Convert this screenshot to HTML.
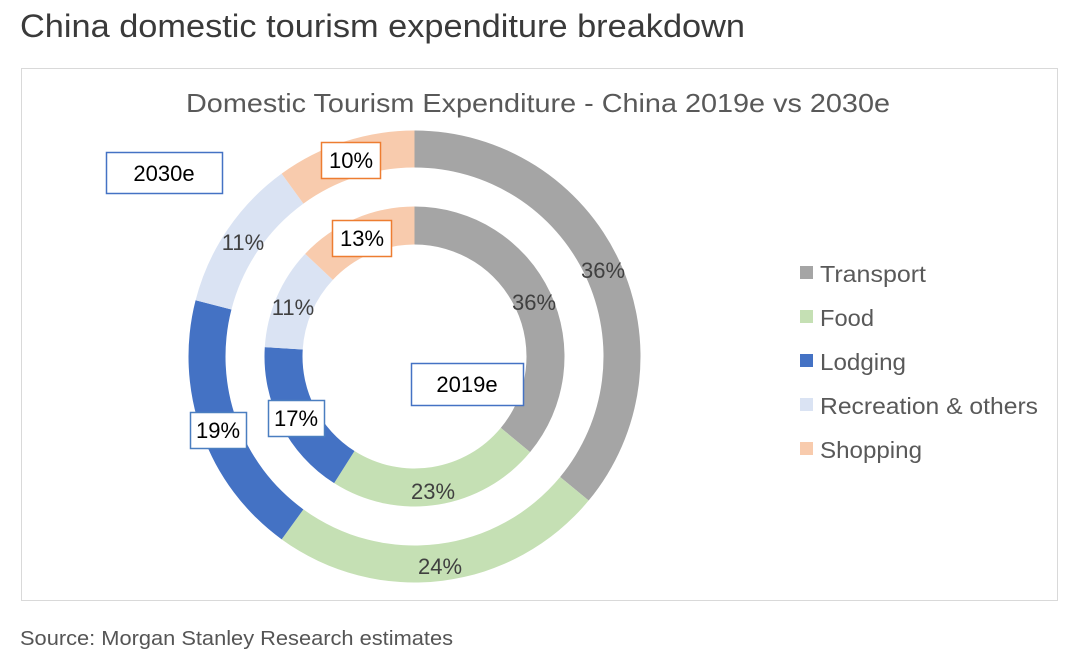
<!DOCTYPE html>
<html><head><meta charset="utf-8"><style>
body{margin:0;background:#fff;width:1080px;height:662px;overflow:hidden;font-family:"Liberation Sans",sans-serif}
</style></head><body>
<svg width="1080" height="662" xmlns="http://www.w3.org/2000/svg" font-family="Liberation Sans, sans-serif">
<text x="20" y="37" font-size="32" fill="#3a3a3a" textLength="725" lengthAdjust="spacingAndGlyphs">China domestic tourism expenditure breakdown</text>
<rect x="21.5" y="68.5" width="1036" height="532" fill="#fff" stroke="#d9d9d9"/>
<text x="186" y="112" font-size="26" fill="#595959" textLength="704" lengthAdjust="spacingAndGlyphs">Domestic Tourism Expenditure - China 2019e vs 2030e</text>
<g id="rings"></g>
<g font-size="22" fill="#404040" text-anchor="middle">
<text x="603" y="278">36%</text>
<text x="440" y="574">24%</text>
<text x="243" y="250">11%</text>
<text x="534" y="310">36%</text>
<text x="433" y="499">23%</text>
<text x="293" y="315">11%</text>
</g>
<g font-size="22" fill="#000" text-anchor="middle">
<rect x="190.5" y="412.5" width="56" height="36" fill="#fff" stroke="#4a7ec0" stroke-width="1.5"/><text x="218" y="438">19%</text>
<rect x="321.5" y="142.5" width="59" height="36" fill="#fff" stroke="#ed7d31" stroke-width="1.5"/><text x="351" y="168">10%</text>
<rect x="268.5" y="400.5" width="56" height="36" fill="#fff" stroke="#4a7ec0" stroke-width="1.5"/><text x="296" y="426">17%</text>
<rect x="332.5" y="220.5" width="59" height="36" fill="#fff" stroke="#ed7d31" stroke-width="1.5"/><text x="362" y="246">13%</text>
<rect x="106.5" y="152.5" width="116" height="41" fill="#fff" stroke="#4472c4" stroke-width="1.5"/><text x="164" y="181">2030e</text>
<rect x="411.5" y="363.5" width="112" height="42" fill="#fff" stroke="#4472c4" stroke-width="1.5"/><text x="467" y="392">2019e</text>
</g>
<g font-size="23" fill="#595959">
<rect x="800" y="266" width="13" height="13" fill="#a5a5a5"/><text x="820" y="282" textLength="106" lengthAdjust="spacingAndGlyphs">Transport</text>
<rect x="800" y="310" width="13" height="13" fill="#c5e0b4"/><text x="820" y="326" textLength="54" lengthAdjust="spacingAndGlyphs">Food</text>
<rect x="800" y="354" width="13" height="13" fill="#4472c4"/><text x="820" y="370" textLength="86" lengthAdjust="spacingAndGlyphs">Lodging</text>
<rect x="800" y="398" width="13" height="13" fill="#dae3f3"/><text x="820" y="414" textLength="218" lengthAdjust="spacingAndGlyphs">Recreation &amp; others</text>
<rect x="800" y="442" width="13" height="13" fill="#f8cbad"/><text x="820" y="458" textLength="102" lengthAdjust="spacingAndGlyphs">Shopping</text>
</g>
<text x="20" y="645" font-size="20" fill="#555" textLength="433" lengthAdjust="spacingAndGlyphs">Source: Morgan Stanley Research estimates</text>
</svg>
<script>
var cx=414.5,cy=356.5,cols=["#a5a5a5","#c5e0b4","#4472c4","#dae3f3","#f8cbad"];
function ring(vals,R,r){var s="",a=0;vals.forEach(function(v,i){var b=a+v/100*2*Math.PI;
function p(rad,t){return (cx+rad*Math.sin(t)).toFixed(2)+" "+(cy-rad*Math.cos(t)).toFixed(2)}
var lg=(b-a)>Math.PI?1:0;
s+='<path fill="'+cols[i]+'" d="M'+p(R,a)+' A'+R+' '+R+' 0 '+lg+' 1 '+p(R,b)+' L'+p(r,b)+' A'+r+' '+r+' 0 '+lg+' 0 '+p(r,a)+' Z"/>';a=b;});return s;}
document.getElementById("rings").innerHTML=ring([36,24,19,11,10],226,189)+ring([36,23,17,11,13],150,112);
</script>
</body></html>
